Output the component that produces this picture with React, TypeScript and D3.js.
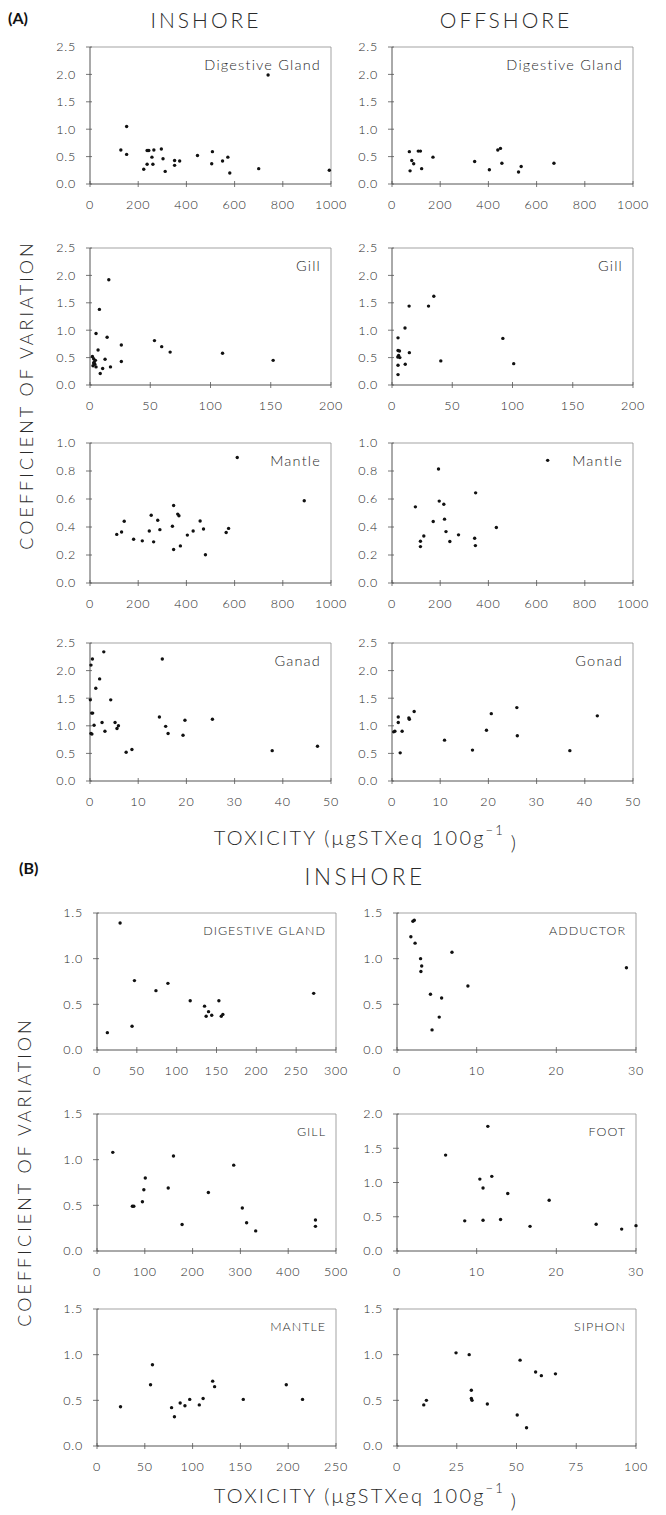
import React from 'react';
import * as d3 from 'd3';

type Pt = [number, number];

// ---------- DATA (A) ----------
const inshoreDigestiveGland: Pt[] = [
  [128, 0.62], [152, 1.05], [152, 0.54], [223, 0.27], [237, 0.61], [244, 0.61], [237, 0.36],
  [257, 0.49], [261, 0.36], [265, 0.62], [296, 0.64], [303, 0.46], [312, 0.23], [351, 0.34],
  [351, 0.43], [372, 0.42], [446, 0.52], [508, 0.59], [505, 0.37], [550, 0.42], [572, 0.49],
  [580, 0.2], [700, 0.28], [739, 1.99], [993, 0.25],
];
const offshoreDigestiveGland: Pt[] = [
  [72, 0.59], [75, 0.24], [82, 0.43], [90, 0.37], [109, 0.6], [118, 0.6], [123, 0.28],
  [170, 0.49], [343, 0.41], [404, 0.26], [439, 0.62], [450, 0.65], [456, 0.38], [525, 0.22],
  [536, 0.32], [672, 0.38],
];
const inshoreGill: Pt[] = [
  [5, 0.94], [7.8, 1.38], [15.6, 1.92], [6.7, 0.64], [14.2, 0.87], [26, 0.73], [12.5, 0.47],
  [26, 0.43], [53.5, 0.81], [59.5, 0.7], [66.5, 0.6], [110, 0.58], [152, 0.45],
  [2, 0.52], [3, 0.48], [3.5, 0.42], [4, 0.38], [2.5, 0.35], [5, 0.33], [4.5, 0.45], [3, 0.4],
  [10.5, 0.3], [17, 0.33], [8.5, 0.21],
];
const offshoreGill: Pt[] = [
  [5, 0.86], [10.8, 1.04], [14.2, 1.44], [30.3, 1.44], [34.7, 1.62], [5, 0.63], [6.2, 0.62],
  [5.5, 0.54], [6.5, 0.5], [4.8, 0.51], [14.4, 0.59], [5, 0.36], [11, 0.38], [5, 0.19],
  [40.5, 0.44], [92, 0.85], [101, 0.39],
];
const inshoreMantle: Pt[] = [
  [111, 0.347], [131, 0.364], [142, 0.441], [181, 0.313], [217, 0.301], [246, 0.371],
  [254, 0.484], [264, 0.294], [281, 0.448], [290, 0.381], [342, 0.405], [347, 0.554],
  [347, 0.239], [364, 0.492], [369, 0.48], [375, 0.265], [404, 0.342], [428, 0.371],
  [457, 0.443], [471, 0.386], [479, 0.202], [565, 0.361], [575, 0.39], [611, 0.896],
  [889, 0.588],
];
const offshoreMantle: Pt[] = [
  [97, 0.544], [118, 0.298], [118, 0.26], [132, 0.336], [171, 0.439], [193, 0.814],
  [196, 0.585], [215, 0.563], [218, 0.456], [224, 0.367], [240, 0.296], [276, 0.344],
  [343, 0.32], [346, 0.267], [347, 0.644], [433, 0.396], [646, 0.876],
];
const inshoreGonad: Pt[] = [
  [0.07, 1.47], [0.2, 2.1], [0.5, 2.21], [0.35, 1.23], [0.55, 1.23], [0.2, 0.86], [0.4, 0.85],
  [0.84, 1.01], [1.2, 1.68], [2.0, 1.85], [2.86, 2.34], [2.5, 1.06], [3.1, 0.9], [4.3, 1.47],
  [5.2, 1.06], [5.6, 0.95], [5.9, 1.0], [7.5, 0.52], [8.7, 0.57], [14.4, 1.16], [15.0, 2.21],
  [15.7, 0.99], [16.2, 0.86], [19.3, 0.83], [19.7, 1.1], [25.4, 1.12], [37.8, 0.55],
  [47.2, 0.63],
];
const offshoreGonad: Pt[] = [
  [0.35, 0.89], [0.6, 0.9], [1.3, 1.16], [1.3, 1.06], [2.1, 0.9], [1.7, 0.51], [3.5, 1.14],
  [3.6, 1.12], [4.6, 1.26], [10.9, 0.74], [16.7, 0.56], [19.6, 0.92], [20.6, 1.22],
  [25.9, 1.33], [26, 0.82], [36.9, 0.55], [42.6, 1.18],
];

// ---------- DATA (B) ----------
const bDigestiveGland: Pt[] = [
  [13, 0.19], [29, 1.39], [44, 0.26], [47, 0.76], [74, 0.65], [89, 0.73], [117, 0.54],
  [135, 0.48], [140, 0.42], [137, 0.37], [144, 0.38], [153, 0.54], [156, 0.37], [158, 0.39],
  [272, 0.62],
];
const bAdductor: Pt[] = [
  [1.74, 1.24], [2.0, 1.41], [2.17, 1.42], [2.27, 1.17], [2.96, 1.0], [3.1, 0.92], [3.0, 0.86],
  [4.2, 0.61], [4.4, 0.22], [5.3, 0.36], [5.6, 0.57], [6.9, 1.07], [8.9, 0.7], [28.8, 0.9],
];
const bGill: Pt[] = [
  [33, 1.08], [74, 0.49], [77, 0.49], [95, 0.54], [98, 0.67], [101, 0.8], [149, 0.69],
  [160, 1.04], [178, 0.29], [233, 0.64], [286, 0.94], [304, 0.47], [313, 0.31], [332, 0.22],
  [457, 0.34], [457, 0.27],
];
const bFoot: Pt[] = [
  [6.1, 1.4], [11.4, 1.82], [10.4, 1.05], [11.9, 1.09], [10.8, 0.92], [13.9, 0.84],
  [19.1, 0.74], [8.5, 0.44], [10.8, 0.45], [13.0, 0.46], [16.7, 0.36], [25.0, 0.39],
  [28.2, 0.32], [30.0, 0.37],
];
const bMantle: Pt[] = [
  [24.6, 0.43], [56, 0.67], [58, 0.89], [78, 0.42], [81, 0.32], [87, 0.47], [92, 0.44],
  [97, 0.51], [107, 0.45], [111, 0.52], [121, 0.71], [123, 0.65], [153, 0.51], [198, 0.67],
  [215, 0.51],
];
const bSiphon: Pt[] = [
  [11.2, 0.45], [12.3, 0.5], [24.7, 1.02], [30.2, 1.0], [31.1, 0.61], [31.1, 0.52],
  [31.4, 0.5], [37.8, 0.46], [50.3, 0.34], [51.5, 0.94], [54.2, 0.2], [58, 0.81],
  [60.4, 0.77], [66.3, 0.79],
];

// ---------- TICKS ----------
const ticks0to1000 = [0, 200, 400, 600, 800, 1000];
const ticks0to200 = [0, 50, 100, 150, 200];
const ticks0to50 = [0, 10, 20, 30, 40, 50];
const ticks0to300 = [0, 50, 100, 150, 200, 250, 300];
const ticks0to30by10 = [0, 10, 20, 30];
const ticks0to500 = [0, 100, 200, 300, 400, 500];
const ticks0to250 = [0, 50, 100, 150, 200, 250];
const ticks0to100 = [0, 25, 50, 75, 100];
const yTicks25 = [0, 0.5, 1.0, 1.5, 2.0, 2.5];
const yTicks10 = [0, 0.2, 0.4, 0.6, 0.8, 1.0];
const yTicks15 = [0, 0.5, 1.0, 1.5];
const yTicks20 = [0, 0.5, 1.0, 1.5, 2.0];

// ---------- LAYOUT ----------
const FONT = "Lato, 'Open Sans', 'DejaVu Sans', sans-serif";
const INK = '#2a2a2a';
const AXIS = '#555';

const colA = [[90, 331], [392, 633]];
const rowsA = [[47, 184], [248, 385], [443, 583], [643, 781]];
const colB = [[97, 336], [397, 636]];
const rowsB = [[913, 1050], [1114, 1251], [1309, 1446]];

type PanelDef = {
  data: Pt[];
  xTicks: number[];
  yTicks: number[];
  label: string;
  box: number[]; // x0, x1, y0, y1
  labelSize: number;
  labelSpacing: number;
};

function Panel({ p }: { p: PanelDef }) {
  const [x0, x1, y0, y1] = p.box;
  const x = d3.scaleLinear().domain([p.xTicks[0], p.xTicks[p.xTicks.length - 1]]).range([x0, x1]);
  const y = d3.scaleLinear().domain([p.yTicks[0], p.yTicks[p.yTicks.length - 1]]).range([y1, y0]);
  return (
    <g>
      <line x1={x0} x2={x1} y1={y0} y2={y0} stroke="#999" strokeWidth={0.9} />
      <line x1={x1} x2={x1} y1={y0} y2={y1} stroke="#999" strokeWidth={0.9} />
      <line x1={x0} x2={x0} y1={y0} y2={y1} stroke={AXIS} strokeWidth={1} />
      <line x1={x0} x2={x1} y1={y1} y2={y1} stroke={AXIS} strokeWidth={1} />
      {p.yTicks.map((t) => (
        <g key={'y' + t}>
          <line x1={x0 - 4} x2={x0 + 2} y1={y(t)} y2={y(t)} stroke={AXIS} strokeWidth={0.8} />
          <text x={x0 - 14} y={y(t)} dy="0.35em" textAnchor="end" fontSize={12.5}
            fill={INK} fontFamily={FONT} fontWeight={300} letterSpacing={0.8}>
            {d3.format('.1f')(t)}
          </text>
        </g>
      ))}
      {p.xTicks.map((t) => (
        <g key={'x' + t}>
          <line x1={x(t)} x2={x(t)} y1={y1 - 3} y2={y1 + 3} stroke={AXIS} strokeWidth={0.8} />
          <text x={x(t)} y={y1 + 21} dy="0.35em" textAnchor="middle" fontSize={12.5}
            fill={INK} fontFamily={FONT} fontWeight={300} letterSpacing={0.8}>
            {t}
          </text>
        </g>
      ))}
      {p.data.map((d, i) => (
        <circle key={i} cx={x(d[0])} cy={y(d[1])} r={1.7} fill="#111" />
      ))}
      <text x={x1 - 10} y={y0 + 18} dy="0.35em" textAnchor="end" fontSize={p.labelSize}
        fill={INK} fontFamily={FONT} fontWeight={300} letterSpacing={p.labelSpacing}>
        {p.label}
      </text>
    </g>
  );
}

function box(col: number[], row: number[]) {
  return [col[0], col[1], row[0], row[1]];
}

const panelsA: PanelDef[] = [
  { data: inshoreDigestiveGland, xTicks: ticks0to1000, yTicks: yTicks25, label: 'Digestive Gland', box: box(colA[0], rowsA[0]), labelSize: 14.5, labelSpacing: 1.2 },
  { data: offshoreDigestiveGland, xTicks: ticks0to1000, yTicks: yTicks25, label: 'Digestive Gland', box: box(colA[1], rowsA[0]), labelSize: 14.5, labelSpacing: 1.2 },
  { data: inshoreGill, xTicks: ticks0to200, yTicks: yTicks25, label: 'Gill', box: box(colA[0], rowsA[1]), labelSize: 14.5, labelSpacing: 1.2 },
  { data: offshoreGill, xTicks: ticks0to200, yTicks: yTicks25, label: 'Gill', box: box(colA[1], rowsA[1]), labelSize: 14.5, labelSpacing: 1.2 },
  { data: inshoreMantle, xTicks: ticks0to1000, yTicks: yTicks10, label: 'Mantle', box: box(colA[0], rowsA[2]), labelSize: 14.5, labelSpacing: 1.2 },
  { data: offshoreMantle, xTicks: ticks0to1000, yTicks: yTicks10, label: 'Mantle', box: box(colA[1], rowsA[2]), labelSize: 14.5, labelSpacing: 1.2 },
  { data: inshoreGonad, xTicks: ticks0to50, yTicks: yTicks25, label: 'Ganad', box: box(colA[0], rowsA[3]), labelSize: 14.5, labelSpacing: 1.2 },
  { data: offshoreGonad, xTicks: ticks0to50, yTicks: yTicks25, label: 'Gonad', box: box(colA[1], rowsA[3]), labelSize: 14.5, labelSpacing: 1.2 },
];

const panelsB: PanelDef[] = [
  { data: bDigestiveGland, xTicks: ticks0to300, yTicks: yTicks15, label: 'DIGESTIVE GLAND', box: box(colB[0], rowsB[0]), labelSize: 12.5, labelSpacing: 1 },
  { data: bAdductor, xTicks: ticks0to30by10, yTicks: yTicks15, label: 'ADDUCTOR', box: box(colB[1], rowsB[0]), labelSize: 12.5, labelSpacing: 1 },
  { data: bGill, xTicks: ticks0to500, yTicks: yTicks15, label: 'GILL', box: box(colB[0], rowsB[1]), labelSize: 12.5, labelSpacing: 1 },
  { data: bFoot, xTicks: ticks0to30by10, yTicks: yTicks20, label: 'FOOT', box: box(colB[1], rowsB[1]), labelSize: 12.5, labelSpacing: 1 },
  { data: bMantle, xTicks: ticks0to250, yTicks: yTicks15, label: 'MANTLE', box: box(colB[0], rowsB[2]), labelSize: 12.5, labelSpacing: 1 },
  { data: bSiphon, xTicks: ticks0to100, yTicks: yTicks15, label: 'SIPHON', box: box(colB[1], rowsB[2]), labelSize: 12.5, labelSpacing: 1 },
];

function XTitle({ cx, cy }: { cx: number; cy: number }) {
  return (
    <text x={cx} y={cy} dy="0.35em" textAnchor="middle" fontSize={20} fill={INK}
      fontFamily={FONT} fontWeight={300} letterSpacing={2.2}>
      TOXICITY (μgSTXeq 100g
      <tspan dy="-0.75em" fontSize={13}>−1 </tspan>
      <tspan dy="0.75em">)</tspan>
    </text>
  );
}

function YTitle({ cx, cy }: { cx: number; cy: number }) {
  return (
    <text transform={`translate(${cx},${cy}) rotate(-90)`} dy="0.35em" textAnchor="middle"
      fontSize={18} fill={INK} fontFamily={FONT} fontWeight={300} letterSpacing={3}>
      COEFFICIENT OF VARIATION
    </text>
  );
}

export default function App() {
  return (
    <svg width={666} height={1515} style={{ position: 'absolute', left: 0, top: 0, background: '#fff' }}>
      <rect width={666} height={1515} fill="#fff" />
      <text x={8} y={18} dy="0.35em" fontSize={16} fontWeight={700} fill="#111" fontFamily={FONT}>(A)</text>
      <text x={206} y={21} dy="0.35em" textAnchor="middle" fontSize={21} fontWeight={300} fill={INK} fontFamily={FONT} letterSpacing={3}>INSHORE</text>
      <text x={506} y={21} dy="0.35em" textAnchor="middle" fontSize={21} fontWeight={300} fill={INK} fontFamily={FONT} letterSpacing={3}>OFFSHORE</text>
      {panelsA.map((p, i) => <Panel key={'a' + i} p={p} />)}
      <XTitle cx={366} cy={838} />
      <YTitle cx={27} cy={395} />
      <text x={19} y={868} dy="0.35em" fontSize={16} fontWeight={700} fill="#111" fontFamily={FONT}>(B)</text>
      <text x={365} y={877} dy="0.35em" textAnchor="middle" fontSize={22.5} fontWeight={300} fill={INK} fontFamily={FONT} letterSpacing={3.5}>INSHORE</text>
      {panelsB.map((p, i) => <Panel key={'b' + i} p={p} />)}
      <XTitle cx={366} cy={1496} />
      <YTitle cx={25} cy={1172} />
    </svg>
  );
}
